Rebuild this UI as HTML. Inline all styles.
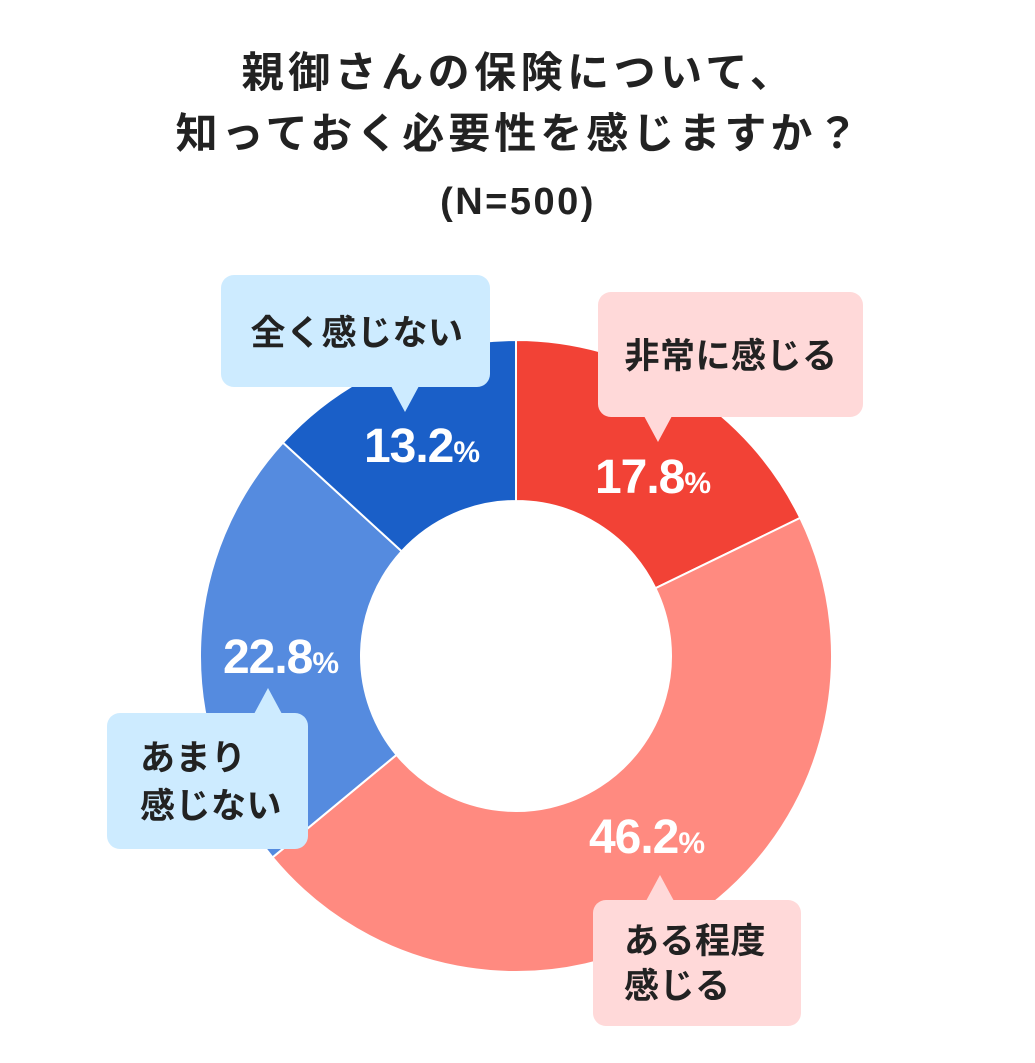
<!DOCTYPE html>
<html><head><meta charset="utf-8"><style>
html,body{margin:0;padding:0;background:#fff;}
svg{display:block;font-family:"Liberation Sans","Noto Sans CJK JP",sans-serif;}
</style></head><body>
<svg id="chart" width="1035" height="1063" viewBox="0 0 1035 1063">
<g font-weight="700" fill="#222" text-anchor="middle">
<text x="519" y="87" font-size="42" letter-spacing="4.5">親御さんの保険について、</text>
<text x="519" y="148" font-size="42" letter-spacing="4">知っておく必要性を感じますか？</text>
<text x="518" y="214" font-size="38" letter-spacing="2.5">(N=500)</text>
</g>
<g id="slices"></g>
<g id="pcts"></g>
<g id="callouts"></g>
</svg>
<script>
const categories = ["非常に感じる","ある程度感じる","あまり感じない","全く感じない"];
const values = [17.8, 46.2, 22.8, 13.2];
const colors = ["#F24236","#FF8A80","#558BDF","#1A5FC8"];
const pctLabels = ["17.8","46.2","22.8","13.2"];
const NS="http://www.w3.org/2000/svg";
const cx=516, cy=656, R=316, r=155;
function pt(a,rad){return [cx+rad*Math.sin(a), cy-rad*Math.cos(a)];}
const total=values.reduce((s,v)=>s+v,0);
let acc=0;
const sl=document.getElementById('slices'), pc=document.getElementById('pcts');
const labelPos=[[653,493],[647,853],[281,673],[422,462]];
values.forEach((v,i)=>{
  const a0=acc/total*2*Math.PI; acc+=v; const a1=acc/total*2*Math.PI;
  const large=(a1-a0)>Math.PI?1:0;
  const [x0,y0]=pt(a0,R),[x1,y1]=pt(a1,R),[x2,y2]=pt(a1,r),[x3,y3]=pt(a0,r);
  const p=document.createElementNS(NS,'path');
  p.setAttribute('d',`M${x0},${y0}A${R},${R} 0 ${large} 1 ${x1},${y1}L${x2},${y2}A${r},${r} 0 ${large} 0 ${x3},${y3}Z`);
  p.setAttribute('fill',colors[i]); p.setAttribute('stroke','#fff'); p.setAttribute('stroke-width','2');
  
  
  sl.appendChild(p);
  const t=document.createElementNS(NS,'text');
  t.setAttribute('x',labelPos[i][0]); t.setAttribute('y',labelPos[i][1]);
  t.setAttribute('text-anchor','middle'); t.setAttribute('fill','#fff'); t.setAttribute('font-weight','700');
  
  
  t.innerHTML=`<tspan font-size="48" letter-spacing="-1">${pctLabels[i]}</tspan><tspan font-size="30">%</tspan>`;
  pc.appendChild(t);
});
const boxes=[
 {x:598,y:292,w:265,h:125,tx:658,ty:442,up:false,f:"#FFD9D9",lines:[categories[0]],lx:731,anc:"middle",ly:[368]},
 {x:593,y:900,w:208,h:126,tx:660,ty:875,up:true,f:"#FFD9D9",lines:["ある程度","感じる"],lx:624,anc:"start",ly:[953,998]},
 {x:107,y:713,w:201,h:136,tx:268,ty:688,up:true,f:"#CDEBFF",lines:["あまり","感じない"],lx:140,anc:"start",ly:[770,818]},
 {x:221,y:275,w:269,h:112,tx:405,ty:412,up:false,f:"#CDEBFF",lines:[categories[3]],lx:357,anc:"middle",ly:[345]}
];
const co=document.getElementById('callouts');
boxes.forEach((b,i)=>{
  const g=document.createElementNS(NS,'g');
  
  
  const rc=document.createElementNS(NS,'rect');
  rc.setAttribute('x',b.x);rc.setAttribute('y',b.y);rc.setAttribute('width',b.w);rc.setAttribute('height',b.h);
  rc.setAttribute('rx',13);rc.setAttribute('fill',b.f);
  g.appendChild(rc);
  const tri=document.createElementNS(NS,'path');
  const by=b.up?b.y+1:b.y+b.h-1;
  tri.setAttribute('d',`M${b.tx-14},${by}L${b.tx},${b.ty}L${b.tx+14},${by}Z`);
  tri.setAttribute('fill',b.f);
  g.appendChild(tri);
  b.lines.forEach((ln,j)=>{
    const t=document.createElementNS(NS,'text');
    t.setAttribute('x',b.lx);t.setAttribute('y',b.ly[j]);t.setAttribute('text-anchor',b.anc);
    t.setAttribute('font-size','35');t.setAttribute('font-weight','700');t.setAttribute('fill','#222');
    t.setAttribute('letter-spacing','0.5');
    
    
    t.textContent=ln; g.appendChild(t);
  });
  co.appendChild(g);
});
</script>
</body></html>
